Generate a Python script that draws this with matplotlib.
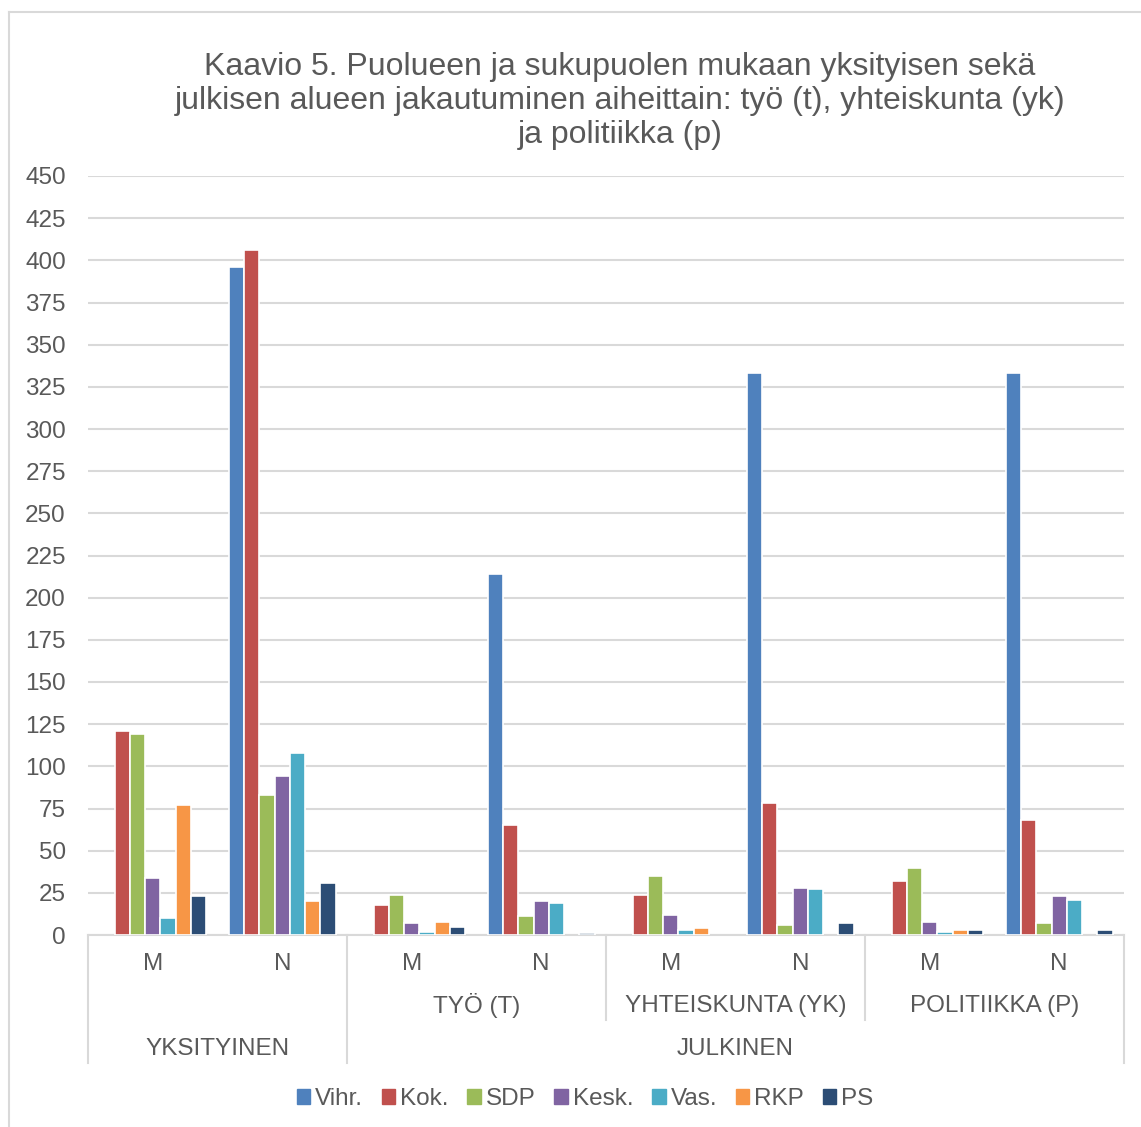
import matplotlib
matplotlib.use("Agg")
import matplotlib.pyplot as plt
from matplotlib.lines import Line2D
import numpy as np

plt.rcParams['font.family'] = ['Liberation Sans', 'DejaVu Sans']

parties = ["Vihr.", "Kok.", "SDP", "Kesk.", "Vas.", "RKP", "PS"]
colors = ["#4f81bd", "#c0504d", "#9bbb59", "#8064a2", "#4bacc6", "#f79646", "#2c4d75"]
genders = ["M", "N", "M", "N", "M", "N", "M", "N"]
topics = ["", "TYÖ (T)", "YHTEISKUNTA (YK)", "POLITIIKKA (P)"]
areas = ["YKSITYINEN", "JULKINEN"]

vihr = [0, 396, 0, 214, 0, 333, 0, 333]
kok  = [121, 406, 18, 65, 24, 78, 32, 68]
sdp  = [119, 83, 24, 11, 35, 6, 40, 7]
kesk = [34, 94, 7, 20, 12, 28, 8, 23]
vas  = [10, 108, 2, 19, 3, 27, 2, 21]
rkp  = [77, 20, 8, 0, 4, 0, 3, 0]
ps   = [23, 31, 5, 1, 0, 7, 3, 3]
series = [vihr, kok, sdp, kesk, vas, rkp, ps]

W, H = 1141, 1127
fig = plt.figure(figsize=(W/100, H/100), dpi=100)
ax = fig.add_axes([88/W, 1-935/H, (1124-88)/W, (935-176)/H])

x = np.arange(len(genders))
pitch = 0.118
for i, (vals, c, name) in enumerate(zip(series, colors, parties)):
    lws = [1.2 if v > 0 else 0 for v in vals]
    ax.bar(x + (i-3)*pitch, vals, width=pitch, color=c, edgecolor="white", linewidth=lws, label=name, zorder=3)

fs = 17.5
ax.set_xlim(-0.5, len(genders)-0.5)
ax.set_ylim(0, 450)
ax.set_yticks(np.arange(0, 451, 25))
ax.tick_params(axis='y', length=0, labelsize=fs, labelcolor="#595959", pad=16)
ax.set_xticks([])
ax.grid(axis='y', color="#d9d9d9", linewidth=1.5, zorder=0)
for s in ["top", "right", "left"]:
    ax.spines[s].set_visible(False)
ax.spines["bottom"].set_color("#d9d9d9")
ax.spines["bottom"].set_linewidth(1.5)

tr = ax.get_xaxis_transform()
ah = 935-176
def yf(py):
    return (935-py)/ah

txtc = "#595959"
for i, g in enumerate(genders):
    ax.text(i, yf(964), g, transform=tr, ha="center", va="center", fontsize=fs, color=txtc)
for j, t in enumerate(topics):
    if t:
        ax.text(2*j+0.5, yf(1006), t, transform=tr, ha="center", va="center", fontsize=fs, color=txtc)
ax.text(0.5, yf(1049), areas[0], transform=tr, ha="center", va="center", fontsize=fs, color=txtc)
ax.text(4.5, yf(1049), areas[1], transform=tr, ha="center", va="center", fontsize=fs, color=txtc)

lc = "#d9d9d9"
for xv, ybot in [(-0.5, 1063), (1.5, 1063), (3.5, 1020), (5.5, 1020), (7.5, 1063)]:
    ax.add_line(Line2D([xv, xv], [0, yf(ybot)], transform=tr, color=lc, linewidth=1.5, clip_on=False))

fig.text(620/W, 1-101/H, "Kaavio 5. Puolueen ja sukupuolen mukaan yksityisen sekä\njulkisen alueen jakautuminen aiheittain: työ (t), yhteiskunta (yk)\nja politiikka (p)",
         ha="center", va="center", fontsize=23, color=txtc, linespacing=1.17)

handles = [plt.Rectangle((0, 0), 1, 1, color=c) for c in colors]
fig.legend(handles, parties, loc="center", bbox_to_anchor=(585/W, 1-1099/H), ncol=7, frameon=False,
           fontsize=fs, labelcolor=txtc, handlelength=0.55, handleheight=0.55, handletextpad=0.2,
           columnspacing=0.78)

fig.add_artist(Line2D([9/W, 9/W], [0, 1-12/H], transform=fig.transFigure, color=lc, linewidth=1.5))
fig.add_artist(Line2D([9/W, 1], [1-12/H, 1-12/H], transform=fig.transFigure, color=lc, linewidth=1.5))

fig.savefig("out.png", dpi=100, facecolor="white")
